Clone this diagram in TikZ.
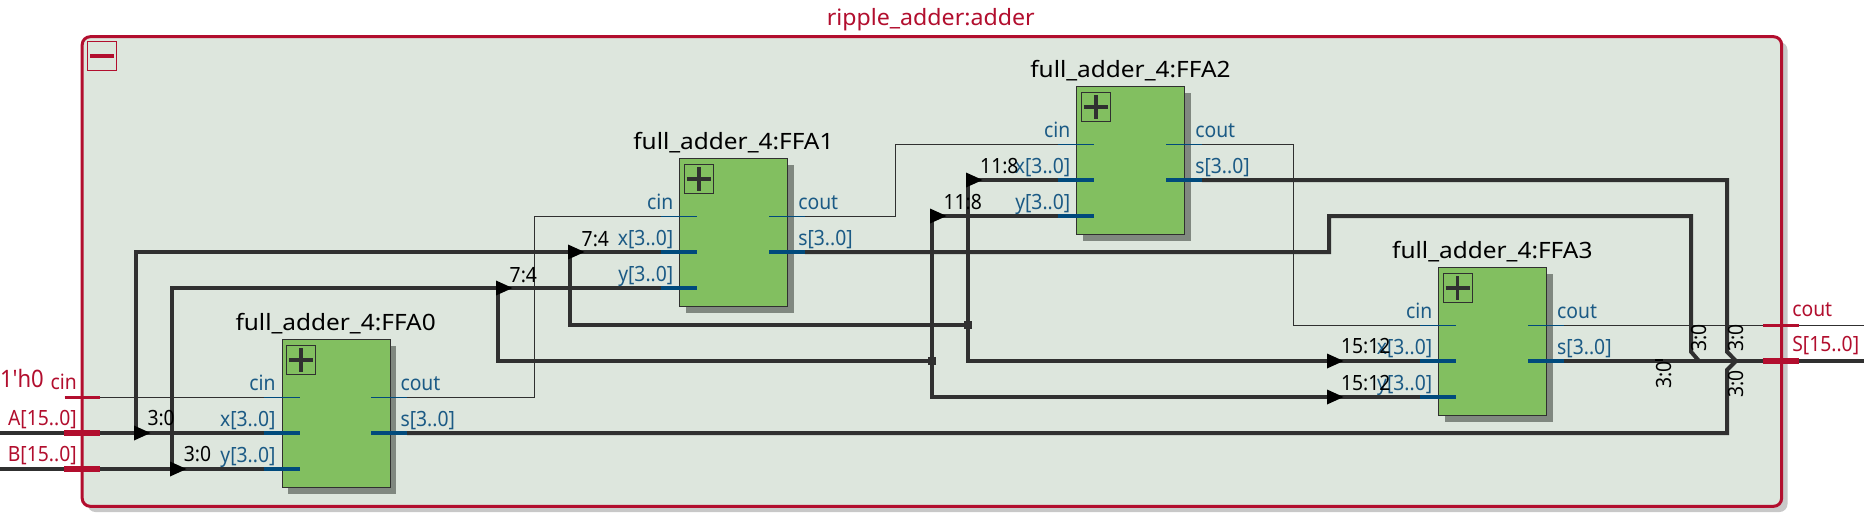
\documentclass[tikz,border=0pt]{standalone}
\usepackage{fontspec}
\setmainfont[FakeStretch=0.92]{Noto Sans}
\newfontfamily\keyfont[FakeStretch=0.92]{Noto Sans}
\newfontfamily\blockfont[FakeStretch=1.085]{Noto Sans}
\newfontfamily\panefont[FakeStretch=1.03]{Noto Sans}
\definecolor{frameRed}{HTML}{B20E2E}
\definecolor{portBlue}{HTML}{004A7C}
\definecolor{textBlue}{HTML}{1B5A85}
\definecolor{paneBg}{HTML}{DDE6DD}
\definecolor{blockGreen}{HTML}{82BF60}
\definecolor{blockShade}{HTML}{808880}
\definecolor{paneShade}{HTML}{C8C8C8}
\definecolor{wireInk}{HTML}{303030}
\tikzset{
  x=1pt,y=-1pt,
  bus/.style={draw=wireInk,line width=4pt,line join=miter},
  sig/.style={draw=wireInk,line width=1.2pt},
  stubthick/.style={draw=portBlue,line width=4.4pt},
  stubthin/.style={draw=portBlue,line width=1.2pt},
  redthick/.style={draw=frameRed,line width=6pt},
  redthin/.style={draw=frameRed,line width=2.4pt},
  txt/.style={inner sep=0pt,outer sep=0pt,font=\fontsize{21}{22}\selectfont},
  blue label/.style={txt,text=textBlue},
  red label/.style={txt,text=frameRed},
  blk label/.style={txt,text=black},
  title label/.style={inner sep=0pt,outer sep=0pt,text=black,font=\blockfont\fontsize{22.5}{24}\selectfont},
  pane label/.style={inner sep=0pt,outer sep=0pt,text=frameRed,font=\panefont\fontsize{22.5}{24}\selectfont},
  block/.style={draw=wireInk,line width=1pt,fill=blockGreen,minimum width=108pt,minimum height=148pt,inner sep=0pt,anchor=north west},
}
% \adder{name}{left}{top}
\newcommand{\adder}[3]{%
  \fill[blockShade] (#2+6.5,#3+6.5) rectangle (#2+114.5,#3+154.5);
  \node[block] (#1) at (#2,#3) {};
  \draw[wireInk,line width=1pt] (#2+4.8,#3+6) rectangle (#2+34,#3+35.4);
  \draw[wireInk,line width=3.6pt] (#2+7.5,#3+20.7) -- (#2+31.5,#3+20.7) (#2+19.4,#3+8.7) -- (#2+19.4,#3+32.7);
  \coordinate (#1cin) at (#2-18,#3+58);
  \coordinate (#1x) at (#2-18,#3+93.7);
  \coordinate (#1y) at (#2-18,#3+129.7);
  \coordinate (#1cout) at (#2+125.5,#3+58);
  \coordinate (#1s) at (#2+125.5,#3+93.7);
  \node[title label,anchor=base west] (#1title) at (#2-46,#3-9) {full\_adder\_4:#1};
  \node[blue label,anchor=base east] (#1lc) at (#2-6,#3+51) {cin};
  \node[blue label,anchor=base east] (#1lx) at (#2-6,#3+87) {x[3..0]};
  \node[blue label,anchor=base east] (#1ly) at (#2-6,#3+123.5) {y[3..0]};
  \node[blue label,anchor=base west] (#1lo) at (#2+119,#3+51) {cout};
  \node[blue label,anchor=base west] (#1ls) at (#2+119,#3+87) {s[3..0]};
}
\newcommand{\tri}[2]{\fill[black] (#1-2,#2-7.5) -- (#1+14.5,#2) -- (#1-2,#2+7.5) -- cycle;}
\begin{document}
\begin{tikzpicture}
\useasboundingbox (0,0) rectangle (1864,522);
\fill[white] (0,0) rectangle (1864,522);
% pane
\fill[paneShade,rounded corners=8pt] (87.5,42) rectangle (1787.5,512);
\draw[frameRed,line width=3pt,fill=paneBg,rounded corners=8pt] (82.2,36.7) rectangle (1781.6,506.3);
\node[pane label,anchor=base west] (paneTitle) at (826.8,25) {ripple\_adder:adder};
\draw[frameRed,line width=1pt] (87.4,41.3) rectangle (116.6,70.7);
\draw[frameRed,line width=4pt] (90,56) -- (114,56);
% blocks
\adder{FFA0}{281.5}{339.3}
\adder{FFA1}{679.3}{158.3}
\adder{FFA2}{1076.3}{86.3}
\adder{FFA3}{1438.2}{267.3}
% top-level ports
\coordinate (cinL) at (64.5,397.3);
\coordinate (AL) at (0,433);
\coordinate (BL) at (0,469);
\coordinate (coutR) at (1864,325.3);
\coordinate (SR) at (1864,361);
% route points
\coordinate (aUp) at (136,433);
\coordinate (bUp) at (172,469);
\coordinate (a74) at (570,252);
\coordinate (b74) at (498,288);
\coordinate (j1) at (968,325);
\coordinate (j2) at (932,361);
\coordinate (a118) at (968,180);
\coordinate (b118) at (932,216);
\coordinate (r1) at (1691,216);
\coordinate (r2) at (1727,180);
\coordinate (jog) at (1329,252);
\coordinate (apexA) at (1699,361);
\coordinate (apexB) at (1736,361);
% thin nets
\draw[sig] (cinL) -- (FFA0cin);
\draw[sig] (FFA0cout) -- (534.6,397.3) -- (534.6,216.3) -- (FFA1cin);
\draw[sig] (FFA1cout) -- (895.2,216.3) -- (895.2,144.3) -- (FFA2cin);
\draw[sig] (FFA2cout) -- (1293.3,144.3) -- (1293.3,325.3) -- (FFA3cin);
\draw[sig] (FFA3cout) -- (coutR);
% bus nets
\draw[bus] (AL) -- (FFA0x);
\draw[bus] (BL) -- (FFA0y);
\draw[bus] (aUp) -- (136,252) -- (FFA1x);
\draw[bus] (bUp) -- (172,288) -- (FFA1y);
\draw[bus] (a74) -- (570,325) -- (j1);
\draw[bus] (b74) -- (498,361) -- (j2);
\draw[bus] (a118) -- (FFA2x);
\draw[bus] (b118) -- (FFA2y);
\draw[bus] (a118) -- (968,361) -- (FFA3x);
\draw[bus] (b118) -- (932,397) -- (FFA3y);
\draw[bus] (FFA3s) -- (SR);
\draw[bus] (FFA1s) -- (jog) -- (1329,216) -- (r1) -- (1691,351.7) -- (apexA);
\draw[bus] (FFA2s) -- (r2) -- (1727,351.7) -- (apexB) -- (1727,370) -- (1727,433) -- (FFA0s);
\fill[black] (1655,358.5) rectangle (1663,361);
% junctions
\fill[wireInk] (964,321) rectangle (972,329);
\fill[wireInk] (928,357) rectangle (936,365);
% arrows
\tri{136}{433}\tri{172}{469}\tri{570}{252}\tri{498}{288}
\tri{968}{180}\tri{932}{216}\tri{1329}{361}\tri{1329}{397}
% stubs
\foreach \n in {FFA0,FFA1,FFA2,FFA3}{
  \draw[stubthin] (\n cin) -- ++(36,0);
  \draw[stubthin] (\n cout) -- ++(-36,0);
  \draw[stubthick] (\n x) -- ++(36,0);
  \draw[stubthick] (\n y) -- ++(36,0);
  \draw[stubthick] (\n s) -- ++(-36,0);
}
% red port stubs
\draw[redthin] (64.5,397.3) -- (100.4,397.3);
\draw[redthick] (64,433) -- (100,433);
\draw[redthick] (64,469) -- (100,469);
\draw[redthin] (1763.3,325.3) -- (1799,325.3);
\draw[redthick] (1762.5,361) -- (1799,361);
% port labels
\node[red label,anchor=base west,font=\keyfont\fontsize{24}{25}\selectfont] (k0) at (0,387.7) {1'h0};
\node[red label,anchor=base east] (lcin) at (76.7,389) {cin};
\node[red label,anchor=base east] (lA) at (76.7,425) {A[15..0]};
\node[red label,anchor=base east] (lB) at (76.7,461.7) {B[15..0]};
\node[red label,anchor=base west] (lcout) at (1792.3,316) {cout};
\node[red label,anchor=base west] (lS) at (1792.3,351.7) {S[15..0]};
% bit labels
\node[blk label,anchor=base west] (t1) at (147.5,425.7) {3:0};
\node[blk label,anchor=base west] (t2) at (183.9,461.7) {3:0};
\node[blk label,anchor=base west] (t3) at (581.7,246) {7:4};
\node[blk label,anchor=base west] (t4) at (509.7,282) {7:4};
\node[blk label,anchor=base west] (t5) at (980.2,173.3) {11:8};
\node[blk label,anchor=base west] (t6) at (943.5,209) {11:8};
\node[blk label,anchor=base west] (t7) at (1341,353.7) {15:12};
\node[blk label,anchor=base west] (t8) at (1341,390) {15:12};
\node[blk label,rotate=90,anchor=center] (t9) at (1699.5,338) {3:0};
\node[blk label,rotate=90,anchor=center] (t10) at (1736.5,338) {3:0};
\node[blk label,rotate=90,anchor=center] (t11) at (1736.5,384) {3:0};
\node[blk label,rotate=90,anchor=center] (t12) at (1664,375) {3:0};
\end{tikzpicture}
\end{document}
